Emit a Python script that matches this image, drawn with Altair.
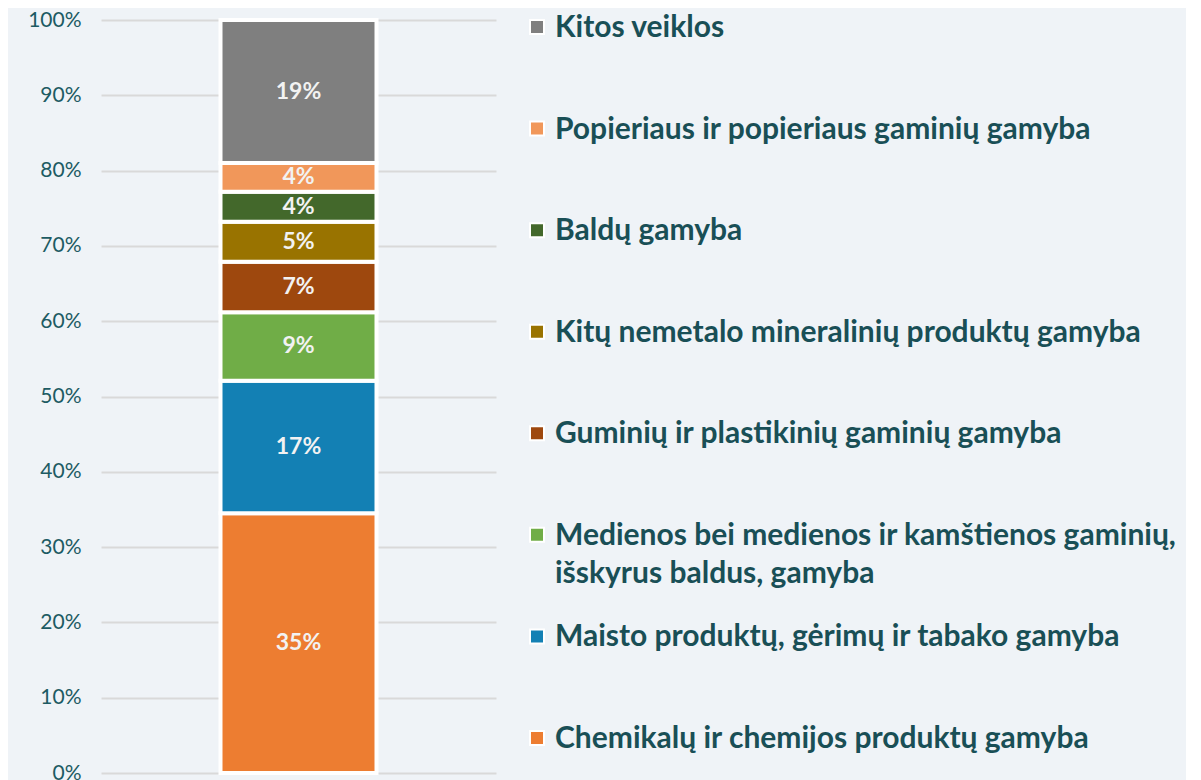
import altair as alt
import pandas as pd

categories = [
    "Chemikalų ir chemijos produktų gamyba",
    "Maisto produktų, gėrimų ir tabako gamyba",
    "Medienos bei medienos ir kamštienos gaminių,\nišskyrus baldus, gamyba",
    "Guminių ir plastikinių gaminių gamyba",
    "Kitų nemetalo mineralinių produktų gamyba",
    "Baldų gamyba",
    "Popieriaus ir popieriaus gaminių gamyba",
    "Kitos veiklos",
]
shares = [34.5, 17.6, 9.1, 6.7, 5.3, 4.0, 3.8, 19.0]
labels = ["35%", "17%", "9%", "7%", "5%", "4%", "4%", "19%"]
colors = ["#ED7D31", "#1380B4", "#70AD47", "#9E480E", "#997300", "#43682B", "#F1975A", "#7F7F7F"]
y_ticks = [0.0, 0.1, 0.2, 0.3, 0.4, 0.5, 0.6, 0.7, 0.8, 0.9, 1.0]
legend_rows = [7, 6, 5, 4, 3, 2, 1, 0]

BG = "#EFF3F7"
TEAL = "#1D5B63"
LEG = "#194F56"

df = pd.DataFrame({
    "cat": categories,
    "share": [s / 100 for s in shares],
    "label": labels,
    "ord": list(range(len(categories))),
    "grp": ["all"] * len(categories),
})

base = alt.Chart(df)

bars = base.mark_bar(size=156, stroke="white", strokeWidth=4).encode(
    x=alt.X("grp:N", axis=None),
    y=alt.Y(
        "share:Q",
        stack="zero",
        scale=alt.Scale(domain=[0, 1], nice=False),
        axis=alt.Axis(
            values=y_ticks, format=".0%", title=None, domain=False, ticks=False,
            grid=True, gridColor="#D9D9D9", gridWidth=2,
            labelFont="Lato", labelFontSize=21, labelColor=TEAL, labelPadding=20,
        ),
    ),
    color=alt.Color("cat:N", scale=alt.Scale(domain=categories, range=colors), legend=None),
    order=alt.Order("ord:Q"),
)

texts = base.transform_window(
    cum="sum(share)", sort=[alt.SortField("ord")], frame=[None, 0]
).transform_calculate(
    mid="datum.cum - datum.share / 2"
).mark_text(
    color="#F2F2F2", font="Lato", fontWeight="bold", fontSize=23, baseline="middle"
).encode(
    x=alt.X("grp:N", axis=None),
    y=alt.Y("mid:Q"),
    text="label:N",
)

bar_chart = alt.layer(bars, texts).properties(width=395, height=753)

leg_df = pd.DataFrame({"cat": categories, "row": legend_rows})
leg_base = alt.Chart(leg_df)
yscale = alt.Scale(domain=[-0.069, 7.345], reverse=True, nice=False, zero=False)

markers = leg_base.mark_square(size=196, stroke="white", strokeWidth=2, opacity=1).encode(
    x=alt.value(41),
    y=alt.Y("row:Q", scale=yscale, axis=None),
    color=alt.Color("cat:N", scale=alt.Scale(domain=categories, range=colors), legend=None),
)
leg_text = leg_base.mark_text(
    align="left", baseline="top", dy=-14, font="Lato", fontWeight="bold",
    fontSize=30, color=LEG, lineBreak="\n", lineHeight=38,
).encode(
    x=alt.value(59),
    y=alt.Y("row:Q", scale=yscale, axis=None),
    text="cat:N",
)
legend_chart = alt.layer(markers, leg_text).properties(width=690, height=753)

chart = alt.hconcat(bar_chart, legend_chart, spacing=0).properties(
    background=BG,
    padding={"left": 19, "top": 1, "right": 0, "bottom": 0},
).configure_view(stroke=None).configure_concat(spacing=0)

chart.save("out.html", embed_options={"renderer": "svg", "actions": False})
